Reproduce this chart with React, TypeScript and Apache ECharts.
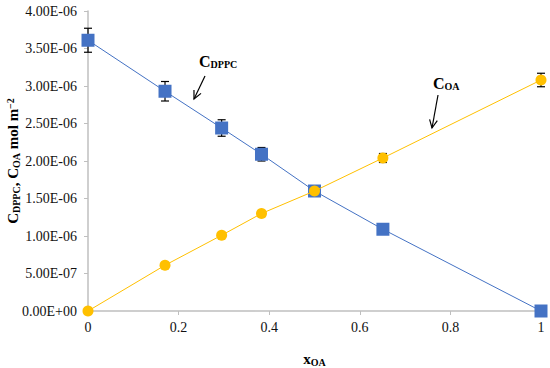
import React, { useEffect, useRef } from "react";
import * as echarts from "echarts";

const xValues = [0, 0.17, 0.295, 0.383, 0.5, 0.651, 1];
const dppcValues = [3.61e-6, 2.93e-6, 2.44e-6, 2.09e-6, 1.6e-6, 1.09e-6, 0];
const dppcErrors = [0.16e-6, 0.13e-6, 0.11e-6, 0.09e-6, 0.04e-6, 0, 0];
const oaValues = [0, 0.61e-6, 1.01e-6, 1.3e-6, 1.6e-6, 2.04e-6, 3.08e-6];
const oaErrors = [0, 0, 0, 0, 0, 0.06e-6, 0.09e-6];

const BLUE = "#4472C4";
const YELLOW = "#FFC000";
const FONT = "Liberation Serif, Times New Roman, serif";

function fmtSci(v: number): string {
  if (v === 0) return "0.00E+00";
  const s = v.toExponential(2);
  const [m, e] = s.split("e");
  const n = parseInt(e, 10);
  const sign = n < 0 ? "-" : "+";
  const abs = Math.abs(n);
  return m + "E" + sign + (abs < 10 ? "0" + abs : String(abs));
}

function arrow(x1: number, y1: number, x2: number, y2: number) {
  const dx = x2 - x1;
  const dy = y2 - y1;
  const len = Math.sqrt(dx * dx + dy * dy);
  const bx = -dx / len;
  const by = -dy / len;
  const L = 9;
  const a = Math.PI / 7;
  const w1 = [x2 + L * (bx * Math.cos(a) - by * Math.sin(a)), y2 + L * (bx * Math.sin(a) + by * Math.cos(a))];
  const w2 = [x2 + L * (bx * Math.cos(-a) - by * Math.sin(-a)), y2 + L * (bx * Math.sin(-a) + by * Math.cos(-a))];
  return [
    { type: "line", shape: { x1, y1, x2, y2 }, style: { stroke: "#000", lineWidth: 1.2 } },
    { type: "polyline", shape: { points: [w1, [x2, y2], w2] }, style: { stroke: "#000", lineWidth: 1.2, fill: null } },
  ];
}

function errorSeries(vals: number[], errs: number[], z: number) {
  const data = xValues
    .map((x, i) => [x, vals[i] - errs[i], vals[i] + errs[i]])
    .filter((_, i) => errs[i] > 0);
  return {
    type: "custom",
    z,
    data,
    clip: false,
    renderItem: (params: any, api: any) => {
      const x = api.value(0);
      const lo = api.coord([x, api.value(1)]);
      const hi = api.coord([x, api.value(2)]);
      const cw = 4;
      const st = { stroke: "#000", lineWidth: 1.2 };
      return {
        type: "group",
        children: [
          { type: "line", shape: { x1: lo[0], y1: lo[1], x2: hi[0], y2: hi[1] }, style: st },
          { type: "line", shape: { x1: lo[0] - cw, y1: lo[1], x2: lo[0] + cw, y2: lo[1] }, style: st },
          { type: "line", shape: { x1: hi[0] - cw, y1: hi[1], x2: hi[0] + cw, y2: hi[1] }, style: st },
        ],
      };
    },
  };
}

export default function App() {
  const ref = useRef<HTMLDivElement>(null);
  useEffect(() => {
    if (!ref.current) return;
    const chart = echarts.init(ref.current, null, { renderer: "svg" });
    const subStyle = { fontFamily: FONT, fontWeight: "bold", fontSize: 10, color: "#000", verticalAlign: "bottom", padding: [6, 0, 0, 0] };
    const tickRich = { t: { fontFamily: FONT, fontSize: 14, color: "#111" } };
    chart.setOption({
      animation: false,
      backgroundColor: "#fff",
      grid: { left: 88, right: 9, top: 11, bottom: 57, containLabel: false, outerBoundsMode: "none" },
      xAxis: {
        type: "value",
        min: 0,
        max: 1,
        interval: 0.2,
        splitLine: { show: false },
        axisLine: { lineStyle: { color: "#BFBFBF", width: 1.5 } },
        axisTick: { show: true, length: 4, lineStyle: { color: "#BFBFBF" } },
        axisLabel: {
          fontFamily: FONT,
          fontSize: 14,
          color: "#111",
          margin: 9,
          rich: tickRich,
          formatter: (v: number) => "{t|" + String(+v.toFixed(1)) + "}",
        },
        name: "{m|x}{s|OA}",
        nameLocation: "middle",
        nameGap: 40,
        nameMoveOverlap: false,
        nameTextStyle: {
          rich: {
            m: { fontFamily: FONT, fontWeight: "bold", fontSize: 15, color: "#000" },
            s: { ...subStyle },
          },
        },
      },
      yAxis: {
        type: "value",
        min: 0,
        max: 4e-6,
        interval: 5e-7,
        splitLine: { show: false },
        axisLine: { show: true, lineStyle: { color: "#BFBFBF", width: 1.5 } },
        axisTick: { show: true, length: 4, lineStyle: { color: "#BFBFBF" } },
        axisLabel: {
          fontFamily: FONT,
          fontSize: 14,
          color: "#111",
          margin: 11,
          rich: tickRich,
          formatter: (v: number) => "{t|" + fmtSci(v) + "}",
        },
        name: "{m|C}{s|DPPC}{m|, C}{s|OA}{m| mol m}{p|−2}",
        nameLocation: "middle",
        nameGap: 67,
        nameMoveOverlap: false,
        nameTextStyle: {
          rich: {
            m: { fontFamily: FONT, fontWeight: "bold", fontSize: 15, color: "#000" },
            s: { ...subStyle },
            p: { fontFamily: FONT, fontWeight: "bold", fontSize: 10, color: "#000", verticalAlign: "top", padding: [0, 0, 6, 0] },
          },
        },
      },
      series: [
        errorSeries(dppcValues, dppcErrors, 1),
        errorSeries(oaValues, oaErrors, 1),
        {
          type: "line",
          z: 3,
          clip: false,
          data: xValues.map((x, i) => [x, dppcValues[i]]),
          symbol: "rect",
          symbolSize: 13,
          itemStyle: { color: BLUE },
          lineStyle: { color: BLUE, width: 1 },
        },
        {
          type: "line",
          z: 4,
          clip: false,
          data: xValues.map((x, i) => [x, oaValues[i]]),
          symbol: "circle",
          symbolSize: 11,
          itemStyle: { color: YELLOW },
          lineStyle: { color: YELLOW, width: 1 },
        },
      ],
      graphic: [
        {
          type: "text",
          x: 199,
          y: 53,
          style: {
            text: "{m|C}{s|DPPC}",
            rich: {
              m: { fontFamily: FONT, fontWeight: "bold", fontSize: 16, color: "#000" },
              s: { fontFamily: FONT, fontWeight: "bold", fontSize: 10, color: "#000", verticalAlign: "bottom", padding: [6, 0, 0, 0] },
            },
          },
        },
        ...arrow(205, 76, 194, 99),
        {
          type: "text",
          x: 433,
          y: 75,
          style: {
            text: "{m|C}{s|OA}",
            rich: {
              m: { fontFamily: FONT, fontWeight: "bold", fontSize: 16, color: "#000" },
              s: { fontFamily: FONT, fontWeight: "bold", fontSize: 10, color: "#000", verticalAlign: "bottom", padding: [6, 0, 0, 0] },
            },
          },
        },
        ...arrow(438, 95, 432, 128),
      ],
    });
    return () => chart.dispose();
  }, []);
  return <div ref={ref} style={{ width: 550, height: 368, position: "absolute", left: 0, top: 0 }} />;
}
